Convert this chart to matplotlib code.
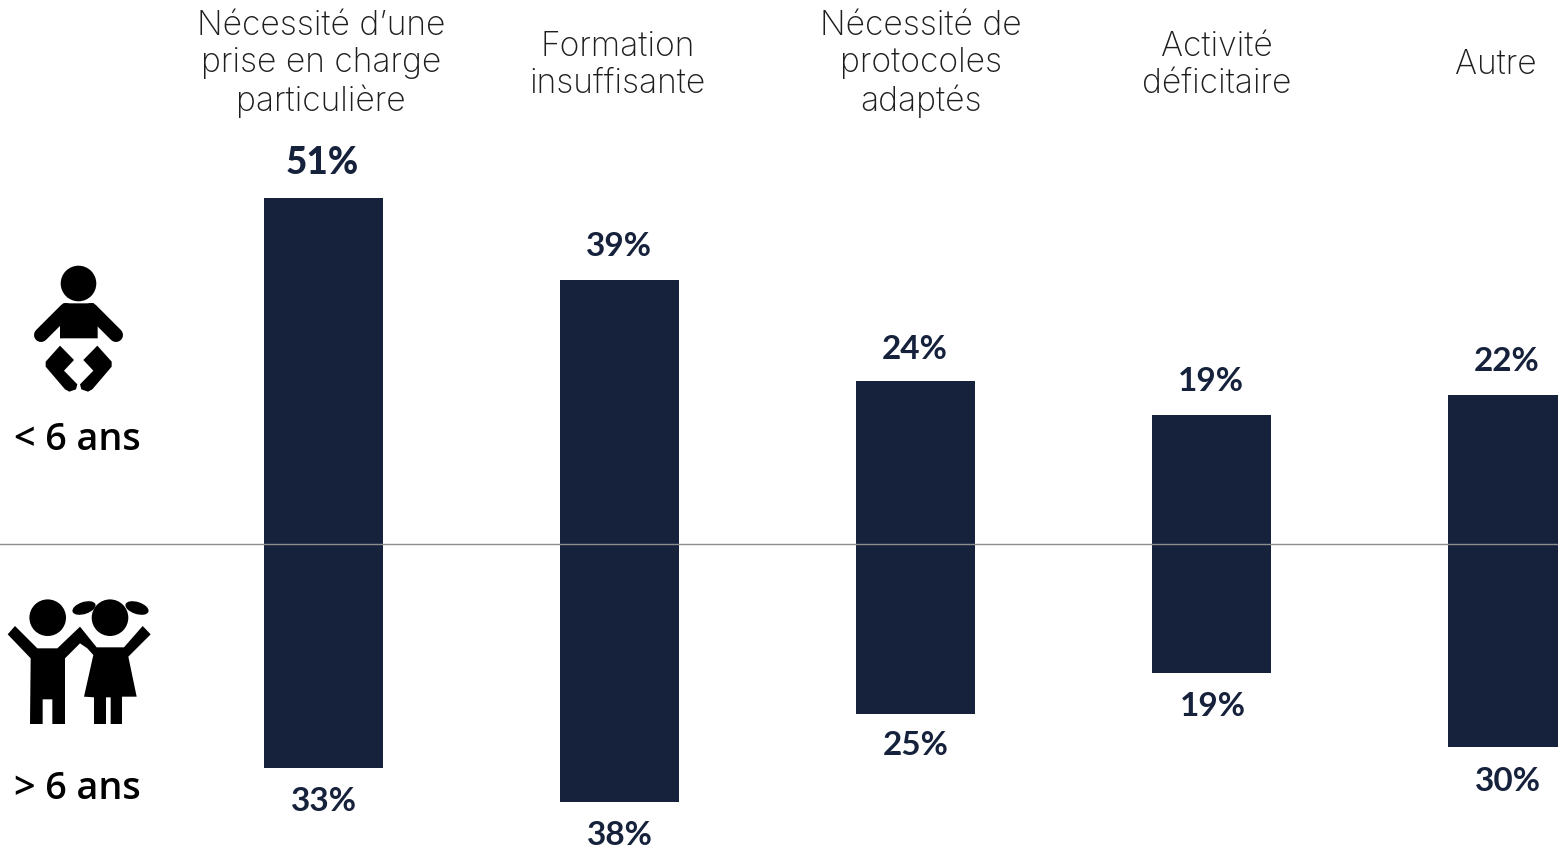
import matplotlib
matplotlib.use("Agg")
import matplotlib.pyplot as plt
from matplotlib.patches import Circle, Ellipse, Polygon
from matplotlib.lines import Line2D

categories = ["Nécessité d\u2019une\nprise en charge\nparticulière", "Formation\ninsuffisante",
              "Nécessité de\nprotocoles\nadaptés", "Activité\ndéficitaire", "Autre"]
under_six = [51, 39, 24, 19, 22]
over_six = [33, 38, 25, 19, 30]

NAVY = "#16223B"
W, H = 1558, 848

fig = plt.figure(figsize=(W / 100, H / 100), dpi=100, facecolor="white")

# Mirrored bars: under-6 upward, over-6 downward
PX_PER_PCT = 6.78
BAR_SPACING = 296.0
ax = fig.add_axes([0, 0, 1, 1])
ax.set_xlim(-323.5 / BAR_SPACING, (W - 323.5) / BAR_SPACING)
ax.set_ylim(-(H - 544) / PX_PER_PCT, 544 / PX_PER_PCT)
ax.axis("off")

x = range(len(categories))
ax.bar(x, under_six, width=0.402, color=NAVY, linewidth=0, zorder=2)
ax.bar(x, [-v for v in over_six], width=0.402, color=NAVY, linewidth=0, zorder=2)
ax.axhline(0, color="#8C8C8C", linewidth=1.0, zorder=3)

# Overlay in pixel units for the headers, row captions and pictograms
ov = fig.add_axes([0, 0, 1, 1], facecolor="none")
ov.set_xlim(0, W)
ov.set_ylim(H, 0)
ov.axis("off")

header_x = [321, 618, 921, 1217, 1496]
header_y = [64, 65, 64, 65, 65]
for hx, hy, label in zip(header_x, header_y, categories):
    ov.text(hx, hy, label, ha="center", va="center", fontsize=24.2, family="Inter",
            fontweight="light", color="#1E1E1E", linespacing=1.2)

# Value labels sit just outside each bar end
up_offset = [-35, -33, -32, -34, -33]
down_offset = [34, 34, 32, 34, 34]
dx_up = [-1, -1, -1, -1, -1]
dx_down = [0, 0, 0, 1, 0]
for i, (u, o) in enumerate(zip(under_six, over_six)):
    ax.annotate(f"{u}%", (i, u), xytext=(dx_up[i] * 0.72, -up_offset[i] * 0.72),
                textcoords="offset points", ha="center", va="center", family="Lato",
                fontweight="black" if i == 0 else "bold",
                fontsize=26.5 if i == 0 else 24, color=NAVY)
    ax.annotate(f"{o}%", (i, -o), xytext=(dx_down[i] * 0.72, -down_offset[i] * 0.72),
                textcoords="offset points", ha="center", va="center", family="Lato",
                fontweight="bold", fontsize=24, color=NAVY)

ov.text(77, 440, "< 6 ans", ha="center", va="center", fontsize=27.2, family="Open Sans",
        fontweight="semibold", color="black")
ov.text(77, 789, "> 6 ans", ha="center", va="center", fontsize=27.2, family="Open Sans",
        fontweight="semibold", color="black")


def zoomed(points, ox, oy):
    return [(ox + px / 3, oy + py / 3) for px, py in points]


def limb(p0, p1, width):
    ov.add_line(Line2D([p0[0], p1[0]], [p0[1], p1[1]], color="black", lw=width * 0.72,
                       solid_capstyle="round"))


# Baby pictogram
ov.add_patch(Circle((78.5, 283.5), 17.8, color="black", lw=0))
torso = [(190, 160), (282, 160), (293, 190), (293, 265), (180, 265), (180, 190)]
ov.add_patch(Polygon(zoomed(torso, 0, 250), closed=True, color="black", lw=0))
limb((66, 310), (41, 335), 14)
limb((91, 310), (116, 335), 14)
left_leg = [(180, 287), (222, 330), (192, 362), (232, 403), (228, 418), (208, 425), (195, 418), (137, 350), (137, 335)]
ov.add_patch(Polygon(zoomed(left_leg, 0, 250), closed=True, color="black", lw=0))
right_leg = [(472 - a, b) for a, b in left_leg]
ov.add_patch(Polygon(zoomed(right_leg, 0, 250), closed=True, color="black", lw=0))

# Two children pictogram
ov.add_patch(Circle((47.7, 617.7), 18.3, color="black", lw=0))
ov.add_patch(Circle((110, 617.7), 18.3, color="black", lw=0))
ov.add_patch(Ellipse((84, 608), 24, 12, angle=-18, color="black", lw=0))
ov.add_patch(Ellipse((137, 608), 24, 12, angle=18, color="black", lw=0))
pair = [(45, 108), (23, 133), (92, 205), (90, 402), (128, 402), (128, 328), (157, 328), (157, 402),
        (195, 402), (195, 205), (240, 160), (262, 175), (280, 195), (252, 320), (282, 322), (282, 402),
        (318, 402), (318, 322), (332, 322), (332, 402), (366, 402), (366, 320), (410, 320), (385, 200),
        (452, 133), (428, 108), (372, 172), (290, 172), (240, 110), (172, 175), (112, 175)]
ov.add_patch(Polygon(zoomed(pair, 0, 590), closed=True, color="black", lw=0))

fig.savefig("out.png", dpi=100, facecolor="white")
